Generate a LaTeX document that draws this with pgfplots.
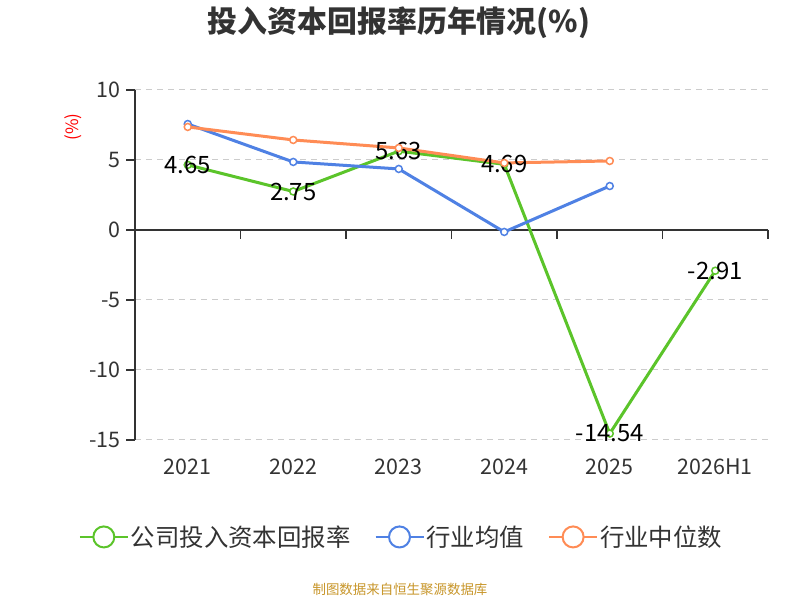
\documentclass[border=0pt]{standalone}
\usepackage{pgfplots}
\pgfplotsset{compat=1.18}
\usepackage{fontspec}
\setmainfont{Noto Sans CJK SC}
\definecolor{cgreen}{HTML}{5BC42A}
\definecolor{cblue}{HTML}{4F81E4}
\definecolor{corange}{HTML}{FF8C55}
\definecolor{ctext}{HTML}{333333}
\definecolor{cgrid}{HTML}{CCCCCC}
\definecolor{cfoot}{HTML}{C8962A}
\begin{document}
\begin{tikzpicture}[x=1bp,y=1bp]
\path[fill=white] (0,0) rectangle (800,600);
\node[text=ctext,font=\fontsize{30}{34}\selectfont\bfseries] at (399,577) {投入资本回报率历年情况(\%)};
\node[text=red,rotate=90,font=\fontsize{17}{19}\selectfont] at (73,473) {(\%)};
\node[text=cfoot,font=\fontsize{13.5}{16}\selectfont] at (400,11) {制图数据来自恒生聚源数据库};
\begin{axis}[
  at={(135bp,160bp)}, anchor=south west,
  scale only axis, width=633bp, height=350bp,
  xmin=-0.5, xmax=5.5, ymin=-15, ymax=10,
  xtick={0,1,2,3,4,5},
  xticklabels={2021,2022,2023,2024,2025,2026H1},
  ytick={-15,-10,-5,0,5,10},
  axis x line*=bottom,
  x axis line style={draw=none},
  axis y line*=left,
  y axis line style={draw=ctext, line width=1.5bp, -},
  ytick style={draw=ctext, line width=1.5bp},
  major tick length=9bp,
  tick align=outside,
  xtick style={draw=none},
  xticklabel style={yshift=-6bp},
  ymajorgrids, grid style={dashed, draw=cgrid, line width=1bp, dash pattern=on 6bp off 5bp},
  ticklabel style={text=ctext, font=\fontsize{21.5}{24}\selectfont},
  /pgf/number format/assume math mode=true,
  yticklabel style={xshift=-2bp},
  clip=false,
  legend columns=3,
  legend style={at={(0.421,-0.277)}, anchor=center, draw=none, fill=none,
     font=\fontsize{24.5}{28}\selectfont, text=ctext,
     /tikz/every even column/.append style={column sep=22bp},
     inner sep=0pt},
  legend image code/.code={%
     \draw[#1, line width=2bp] (0bp,0bp) -- (48bp,0bp);
     \draw[#1, line width=2bp, fill=white] (24bp,0bp) circle (10.5bp);},
  every axis plot/.append style={line width=3bp, mark=*, mark size=3.5bp, mark options={fill=white, line width=1.5bp}},
  nodes near coords style={font=\fontsize{24}{26}\selectfont, text=black, anchor=center},
]
\draw[ctext, line width=1.5bp] (axis cs:-0.5,0) -- (axis cs:5.5,0);
\draw[ctext, line width=1.5bp] (axis cs:0.5,0) -- ++(0bp,-9bp);
\draw[ctext, line width=1.5bp] (axis cs:1.5,0) -- ++(0bp,-9bp);
\draw[ctext, line width=1.5bp] (axis cs:2.5,0) -- ++(0bp,-9bp);
\draw[ctext, line width=1.5bp] (axis cs:3.5,0) -- ++(0bp,-9bp);
\draw[ctext, line width=1.5bp] (axis cs:4.5,0) -- ++(0bp,-9bp);
\draw[ctext, line width=1.5bp] (axis cs:5.5,0) -- ++(0bp,-9bp);
\addplot[cgreen, nodes near coords, point meta=explicit symbolic] coordinates {
 (0,4.65) [4.65] (1,2.75) [2.75] (2,5.63) [5.63] (3,4.69) [4.69] (4,-14.54) [-14.54] (5,-2.91) [-2.91]};
\addlegendentry{公司投入资本回报率}
\addplot[cblue] coordinates {(0,7.57) (1,4.86) (2,4.36) (3,-0.14) (4,3.14)};
\addlegendentry{行业均值}
\addplot[corange] coordinates {(0,7.36) (1,6.43) (2,5.86) (3,4.79) (4,4.93)};
\addlegendentry{行业中位数}
\end{axis}
\end{tikzpicture}
\end{document}
